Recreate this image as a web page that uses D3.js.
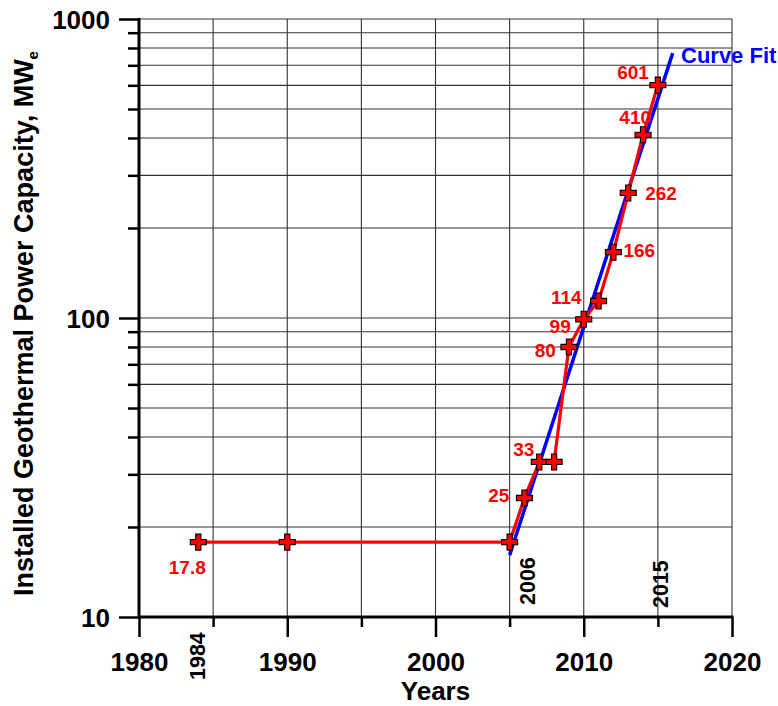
<!DOCTYPE html>
<html>
<head>
<meta charset="utf-8">
<script src="https://cdn.jsdelivr.net/npm/d3@7"></script>
<style>
  html, body { margin: 0; padding: 0; background: #fff; }
  svg { display: block; font-family: "Liberation Sans", Arial, sans-serif; }
</style>
</head>
<body>
<svg id="chart" width="778" height="706"></svg>
<script>
// Installed geothermal capacity by year (MWe)
const years      = [1984, 1990, 2005, 2006, 2007, 2008, 2009, 2010, 2011, 2012, 2013, 2014, 2015];
const capacities = [17.8, 17.8, 17.8, 25,   33,   33,   80,   99,   114,  166,  262,  410,  601];

// Labelled values (year -> text)
const labelYears  = [1984, 2006, 2007, 2009, 2010, 2011, 2012, 2013, 2014, 2015];
const labelTexts  = ["17.8", "25", "33", "80", "99", "114", "166", "262", "410", "601"];

// Exponential curve fit, as its two end points
const fitYears  = [2005, 2016];
const fitValues = [16.1, 769];

// Axis ticks
const xMajorTicks = [1980, 1990, 2000, 2010, 2020];
const xMinorTicks = [1985, 1995, 2005, 2015];
const yMajorTicks = [10, 100, 1000];
const yMinorTicks = [20, 30, 40, 50, 60, 70, 80, 90, 200, 300, 400, 500, 600, 700, 800, 900];
const markedYears = [1984, 2006, 2015];

const svg = d3.select("#chart");
const plotLeft = 139, plotRight = 732, plotTop = 19, plotBottom = 617;

const x = d3.scaleLinear().domain([1980, 2020]).range([plotLeft, plotRight]);
const y = d3.scaleLog().domain([10, 1000]).range([plotBottom, plotTop]);

// Grid
const grid = svg.append("g").attr("stroke", "#333").attr("stroke-width", 1.1);
grid.selectAll("line.v")
  .data(d3.range(1985, 2021, 5))
  .join("line")
  .attr("class", "v")
  .attr("x1", d => x(d)).attr("x2", d => x(d))
  .attr("y1", plotTop).attr("y2", plotBottom);
grid.selectAll("line.h")
  .data(yMinorTicks.concat([100, 1000]))
  .join("line")
  .attr("class", "h")
  .attr("y1", d => y(d)).attr("y2", d => y(d))
  .attr("x1", plotLeft).attr("x2", plotRight);

// Axes
function styleAxis(g, w) {
  g.select(".domain").remove();
  g.selectAll(".tick line").attr("stroke", "#000").attr("stroke-width", w);
}

const xMajor = svg.append("g")
  .attr("transform", `translate(0,${plotBottom})`)
  .call(d3.axisBottom(x).tickValues(xMajorTicks).tickSize(20).tickFormat(d3.format("d")));
styleAxis(xMajor, 2.5);
xMajor.selectAll(".tick text")
  .attr("y", 54).attr("dy", 0)
  .attr("font-size", 26).attr("font-weight", "bold").attr("fill", "#000");

const xMinor = svg.append("g")
  .attr("transform", `translate(0,${plotBottom})`)
  .call(d3.axisBottom(x).tickValues(xMinorTicks).tickSize(10).tickFormat(""));
styleAxis(xMinor, 2.5);

const yMajor = svg.append("g")
  .attr("transform", `translate(${plotLeft},0)`)
  .call(d3.axisLeft(y).tickValues(yMajorTicks).tickSize(20).tickPadding(9).tickFormat(d3.format("d")));
styleAxis(yMajor, 2.5);
yMajor.selectAll(".tick text")
  .attr("dy", "0.36em")
  .attr("font-size", 26).attr("font-weight", "bold").attr("fill", "#000");

const yMinor = svg.append("g")
  .attr("transform", `translate(${plotLeft},0)`)
  .call(d3.axisLeft(y).tickValues(yMinorTicks).tickSize(11).tickFormat(""));
styleAxis(yMinor, 2.5);

// Axis lines
svg.append("line").attr("x1", plotLeft).attr("x2", plotRight + 1.5).attr("y1", plotBottom).attr("y2", plotBottom)
  .attr("stroke", "#000").attr("stroke-width", 3);
svg.append("line").attr("x1", plotLeft).attr("x2", plotLeft).attr("y1", plotTop - 1).attr("y2", plotBottom + 1.5)
  .attr("stroke", "#000").attr("stroke-width", 3);

// Rotated year markers
const yearPlace = { 1984: { dx: 7, y: 680 }, 2006: { dx: 11, y: 605 }, 2015: { dx: 10, y: 608 } };
svg.selectAll("text.year")
  .data(markedYears)
  .join("text")
  .attr("class", "year")
  .attr("transform", d => `translate(${x(d) + yearPlace[d].dx},${yearPlace[d].y}) rotate(-90)`)
  .attr("font-size", 21.5).attr("font-weight", "bold").attr("fill", "#000")
  .text(d => d);

// Curve fit
svg.append("path")
  .datum(fitYears.map((yr, i) => [yr, fitValues[i]]))
  .attr("d", d3.line().x(d => x(d[0])).y(d => y(d[1])))
  .attr("fill", "none").attr("stroke", "#0000ff").attr("stroke-width", 3.5);

// Capacity series
const pts = years.map((yr, i) => ({ yr, v: capacities[i] }));
svg.append("path")
  .datum(pts)
  .attr("d", d3.line().x(d => x(d.yr)).y(d => y(d.v)))
  .attr("fill", "none").attr("stroke", "#ff0000").attr("stroke-width", 3.2);

const a = 8, t = 2.6;
const plus = `M${-t},${-a}H${t}V${-t}H${a}V${t}H${t}V${a}H${-t}V${t}H${-a}V${-t}H${-t}Z`;
svg.selectAll("path.pt")
  .data(pts)
  .join("path")
  .attr("class", "pt")
  .attr("d", plus)
  .attr("transform", d => `translate(${x(d.yr)},${y(d.v)})`)
  .attr("fill", "#ff0000").attr("stroke", "#000").attr("stroke-width", 1.1);

// Value labels
const labelPlace = {
  1984: { dx: -11, dy: 32, anchor: "middle" },
  2006: { dx: -15, dy: 4, anchor: "end" },
  2007: { dx: -5, dy: -6, anchor: "end" },
  2009: { dx: -13, dy: 10, anchor: "end" },
  2010: { dx: -13, dy: 14, anchor: "end" },
  2011: { dx: -17, dy: 3, anchor: "end" },
  2012: { dx: 10, dy: 5, anchor: "start" },
  2013: { dx: 17, dy: 7, anchor: "start" },
  2014: { dx: 8, dy: -11, anchor: "end" },
  2015: { dx: -9, dy: -6, anchor: "end" }
};
svg.selectAll("text.val")
  .data(labelYears.map((yr, i) => ({ yr, text: labelTexts[i], v: capacities[years.indexOf(yr)] })))
  .join("text")
  .attr("class", "val")
  .attr("x", d => x(d.yr) + labelPlace[d.yr].dx)
  .attr("y", d => y(d.v) + labelPlace[d.yr].dy)
  .attr("text-anchor", d => labelPlace[d.yr].anchor)
  .attr("font-size", 19).attr("font-weight", "bold").attr("fill", "#ff0000")
  .text(d => d.text);

svg.append("text")
  .attr("x", 681).attr("y", 63)
  .attr("font-size", 22).attr("font-weight", "bold").attr("fill", "#0000ff")
  .text("Curve Fit");

// Axis titles
svg.append("text")
  .attr("x", (plotLeft + plotRight) / 2).attr("y", 700)
  .attr("text-anchor", "middle")
  .attr("font-size", 26).attr("font-weight", "bold")
  .text("Years");

const yt = svg.append("text")
  .attr("transform", "translate(33,596) rotate(-90)")
  .attr("font-size", 27).attr("font-weight", "bold");
yt.append("tspan").text("Installed Geothermal Power Capacity, MW");
yt.append("tspan").attr("font-size", 15).attr("dy", 5).text("e");
</script>
</body>
</html>
